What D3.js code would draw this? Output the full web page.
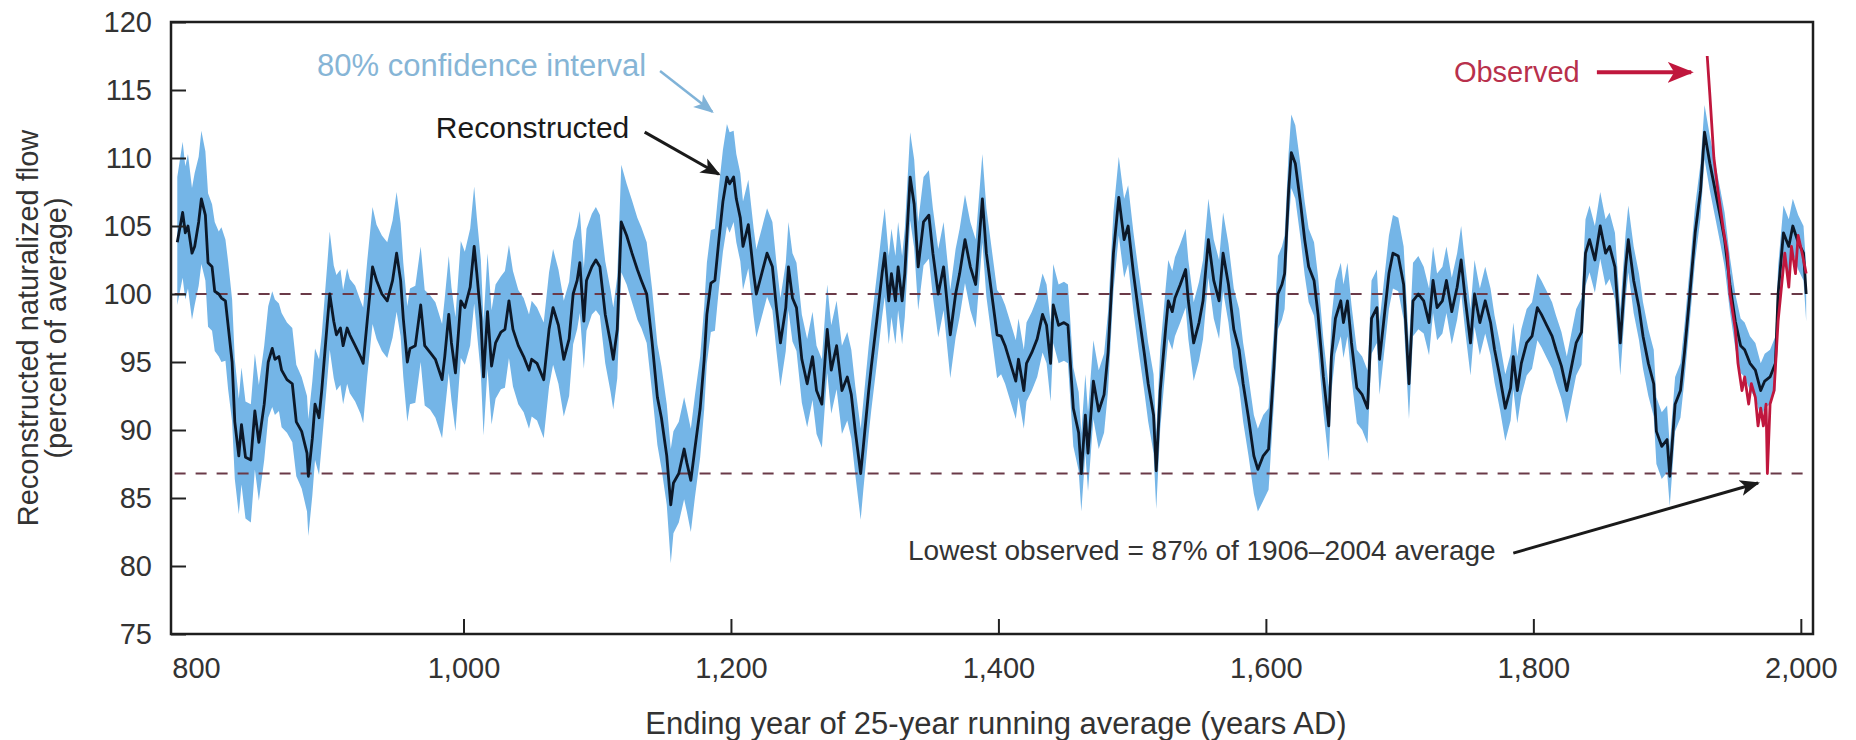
<!DOCTYPE html>
<html>
<head>
<meta charset="utf-8">
<title>Reconstructed naturalized flow</title>
<script src="https://d3js.org/d3.v7.min.js"></script>
<style>
  body { margin: 0; background: white; }
  svg text { font-family: "Liberation Sans", Arial, Helvetica, sans-serif; }
  .axis .domain { stroke: none; }
  .axis line { stroke: #222; stroke-width: 2; }
  .axis text { fill: #333; font-size: 29px; }
</style>
</head>
<body>
<svg id="chart" width="1856" height="740"></svg>
<script>
// reconstructed 25-yr running mean (ending year, % of average)
const years = [
  786,790,792,794,797,799,802,804,807,809, 812,814,817,819,822,824,827,829,832,834,
  837,841,844,847,851,854,857,859,862,864, 868,872,875,879,883,884,887,889,892,894,
  898,900,903,905,908,910,913,915,919,923, 925,928,932,935,939,943,947,950,953,955,
  958,960,964,968,971,975,979,984,986,989, 991,994,998,1001,1005,1008,1010,1013,1015,1018,
  1021,1024,1028,1031,1034,1037,1041,1045,1049,1051, 1055,1060,1064,1067,1071,1075,1079,
  1082,1085,1087,1090,1092,1096,1099,1102,1106,1110, 1112,1115,1118,1122,1126,1130,1133,1137,1141,1145,
  1148,1152,1155,1157,1161,1165,1167,1170,1173,1177, 1180,1182,1185,1188,1191,1194,1197,1199,1202,1204,
  1207,1209,1213,1217,1219,1223,1227,1231,1234,1237, 1241,1243,1246,1249,1253,1257,1261,1264,1268,1272,
  1275,1279,1283,1287,1290,1293,1297,1299,1303,1305, 1309,1313,1315,1318,1320,1323,1325,1328,1330,1334,
  1337,1340,1344,1348,1351,1355,1359,1364,1368,1371, 1375,1379,1383,1388,1391,1395,1399,
  1402,1405,1409,1413,1415,1419,1421,1425,1429,1433, 1436,1439,1441,1445,1449,1452,1456,1460,1462,1465,
  1467,1471,1475,1479,1482,1486,1490,1494,1497,1501, 1505,1509,1512,1516,1518,1521,1525,1527,1530,1532,
  1536,1540,1542,1546,1550,1553,1557,1561,1565,1568, 1572,1576,1580,1583,1587,1591,1594,1598,1602,1606,
  1609,1612,1614,1617,1619,1622,1626,1629,1632,1636, 1639,1643,1647,1649,1652,1656,1658,1661,1664,1668,
  1672,1676,1679,1683,1685,1688,1692,1695,1699,1703, 1707,1710,1714,
  1718,1722,1725,1728,1732,1735,1739,1743,1746,1749, 1753,1756,1760,1764,1768,1771,1775,1779,1783,1785,
  1788,1791,1795,1799,1803,1806,1810,1814,1817,1821, 1825,1829,1832,1836,1839,1842,1846,1850,1854,1857,
  1861,1865,1869,1871,1875,1879,1882,1886,1890,1892, 1896,1900,1902,1906,1910,1913,1917,1921,1925,1928,
  1932,1936,1940,1943,1947,1951,1955,1958,1962,1966, 1970,1973,1977,1981,1983,1987,1991,1994,1998,2002,
  2004
];
const flow = [
  103.8,106,104.5,105,103,103.5,105.3,107,105.8,102.3, 102,100.2,100,99.7,99.5,97.7,95,90.6,88.1,90.4,
  88,87.8,91.4,89.1,91.9,95,96,95.2,95.4,94.4, 93.7,93.4,90.6,89.9,88.3,86.6,89.4,91.9,90.9,92.9,
  97.7,100,98,97,97.5,96.2,97.5,97,96.2,95.4, 94.9,98,102,101,100,99.5,101,103,101,98.2,
  95,96,96.2,99.2,96.2,95.7,95.2,93.7,95.4,98.5, 96.4,94.2,99.5,99,100.5,103.5,101.5,98.2,93.9,98.7,
  94.7,96.4,97.2,97.4,99.5,97.4,96.2,95.4,94.4,95.2, 94.9,93.7,97.4,99,97.7,95.2,96.7,
  100,101,102.3,98,101,102,102.5,102,98.5,96.4, 95.2,97.4,105.3,104.3,103,101.8,101,100,96.5,92.4,
  90.9,88.1,84.5,86.1,86.8,88.6,87.6,86.3,88.6,91.6, 95.2,98.5,100.8,101,104,106.8,108.6,108.1,108.6,107,
  105.6,103.5,105.1,101.5,100,101.5,103,102,99,96.4, 99,102,99.7,99,95.2,93.4,95.4,92.9,91.9,97.4,
  94.4,96.2,92.9,93.9,92.6,89.9,86.8,88.8,92.9,94.7, 98,101.5,103,99.5,101.5,99.5,102,99.5,101.5,108.6,
  106.6,102,105.3,105.8,103,100,102,97,100,101.5, 104,102,100.7,107,103,100,97,
  96.9,96.2,94.9,93.6,95.2,92.9,94.9,95.7,96.7,98.5, 97.7,94.9,99.2,97.7,97.9,97.7,91.6,89.8,86.8,91.1,
  88.3,93.6,91.4,92.6,95.7,103,107.1,104,105,101.5, 98.5,95.7,93.4,91.1,87.0,92.9,97.4,99.5,98.7,99.7,
  100.7,101.8,99.5,96.4,97.9,99.5,104,101,99.5,103, 100.7,97.4,95.9,93.4,90.9,88.1,87.1,88.1,88.6,94.6,
  100,100.7,101.5,107.6,110.4,109.6,106.6,104,102,101, 98.5,93.9,90.3,95.4,98.2,99.5,97.9,99.5,96.4,93.1,
  92.6,91.6,98.2,99,95.2,97.9,101.5,103,102.8,100.7, 93.4,99.5,100,
  99.5,97.9,101,99,99.5,101,98.7,100.5,102.5,99.7, 96.4,100,97.9,99.5,97.9,95.9,93.9,91.6,93.1,95.4,
  92.9,94.9,96.4,96.9,99,98.5,97.7,96.9,95.9,94.7, 92.9,94.9,96.4,97.2,103,104,102.5,105,103,103.5,
  102,96.4,102,104,101,99,96.9,94.9,93.4,89.9, 88.8,89.3,86.6,91.9,92.9,95.7,100,104.5,107.6,111.9,
  109.6,107.6,105.6,104,100.7,98,96.2,95.9,94.9,94.4, 92.9,93.6,93.9,94.9,100,104.5,103.5,105,103.8,103,
  100
];
// 80% confidence interval, lower and upper edge
const flowLow = [
  99.2,101.2,99.6,100.4,98.1,99.2,100.6,102.2,101.0,97.6, 97.3,95.8,95.4,95.0,95.1,93.0,90.6,86.4,83.8,86.0,
  83.5,83.2,87.1,84.8,87.8,90.9,91.7,91.1,91.4,90.2, 89.8,89.1,86.6,85.7,84.0,82.2,85.2,87.8,86.7,88.9,
  93.5,95.9,93.8,92.9,93.3,91.9,93.4,92.7,92.1,91.2, 90.5,93.9,97.8,96.7,95.8,95.3,96.8,98.7,96.9,93.9,
  90.6,91.9,92.0,95.0,91.8,91.5,90.9,89.4,91.3,94.2, 92.2,89.9,95.3,94.8,96.2,99.3,97.2,94.1,89.6,94.5,
  90.4,92.3,93.0,93.1,95.3,93.2,91.9,91.3,90.1,91.0, 90.7,89.4,93.2,94.8,93.4,91.0,92.5,
  96.3,97.4,98.6,94.5,97.3,98.5,98.8,98.4,94.9,92.8, 91.5,93.8,101.6,100.7,99.4,98.1,97.5,96.4,92.8,88.9,
  87.2,84.5,80.2,82.4,83.2,84.9,84.0,82.5,85.0,88.0, 91.5,94.9,97.2,97.3,100.4,103.1,105.0,104.5,105.3,103.8,
  102.4,100.3,101.9,98.3,96.8,98.3,99.8,98.8,95.8,93.2, 95.8,98.8,96.5,95.8,92.0,90.2,92.2,89.7,88.7,94.2,
  91.2,93.0,89.7,90.7,89.4,86.7,83.4,85.6,89.7,91.5, 94.8,98.3,99.8,96.3,98.3,96.3,98.8,96.3,98.3,105.4,
  103.4,98.8,102.1,102.6,99.8,96.8,98.8,93.8,96.8,98.3, 100.8,98.8,97.5,103.8,99.8,96.8,93.8,
  94.1,93.4,92.1,90.8,92.4,90.1,92.1,92.9,93.9,95.7, 94.9,92.1,96.4,94.9,95.1,94.9,88.8,87.0,84.0,88.3,
  85.5,90.8,88.6,89.8,92.9,100.2,104.3,101.2,102.2,98.7, 95.7,92.9,90.6,88.3,84.2,90.1,94.6,96.7,95.9,96.9,
  97.9,99.0,96.7,93.6,95.1,96.7,101.2,98.2,96.7,100.2, 97.9,94.6,93.1,90.6,88.1,85.3,84.0,84.8,85.6,92.0,
  97.4,98.1,98.9,105.0,107.8,107.0,104.0,101.4,99.4,98.4, 95.9,91.3,87.7,92.8,95.6,96.9,95.3,96.9,93.8,90.5,
  90.0,89.0,95.6,96.4,92.6,95.3,98.9,100.4,100.2,98.1, 90.8,96.9,97.4,
  97.1,95.5,98.6,96.6,97.1,98.6,96.3,98.1,100.1,97.3, 94.0,97.6,95.5,97.1,95.5,93.5,91.5,89.2,90.7,93.0,
  90.5,92.5,94.0,94.5,96.6,96.1,95.3,94.5,93.5,92.3, 90.5,92.5,94.0,94.8,100.6,101.6,100.1,102.6,100.6,101.1,
  99.6,94.0,99.6,101.6,98.6,96.6,94.5,92.5,91.0,87.5, 86.4,86.9,84.4,89.9,90.9,93.7,98.0,102.5,105.6,109.9,
  107.6,105.6,103.6,102.0,98.7,96.0,94.2,93.9,92.9,92.4, 90.9,91.6,91.9,92.9,98.0,102.5,101.5,103.0,101.8,101.0,
  98.0
];
const flowHigh = [
  108.6,111.2,109.4,110.3,107.8,108.9,110.1,112.0,110.5,107.4, 106.6,105.3,104.6,104.9,104.0,102.4,99.6,95.2,92.3,94.6,
  92.1,91.9,95.6,93.3,96.2,99.1,100.2,99.6,99.3,98.6, 97.9,97.5,94.8,93.9,92.5,90.8,93.6,96.0,95.2,97.0,
  102.0,104.6,102.1,101.4,101.8,100.3,101.9,101.1,100.6,99.5, 99.0,102.4,106.4,105.1,104.3,103.8,105.4,107.5,105.2,102.3,
  99.1,100.4,100.6,103.5,100.3,99.9,99.4,97.8,99.7,102.8, 100.5,98.3,103.9,103.1,104.8,107.9,105.6,102.5,98.0,103.0,
  98.8,100.7,101.3,101.7,103.6,101.7,100.3,99.7,98.5,99.5, 99.0,97.9,101.6,103.3,101.8,99.5,100.9,
  103.9,105.0,106.1,101.9,104.8,105.9,106.4,105.8,102.4,100.3, 99.0,101.3,109.5,108.1,106.9,105.6,104.9,103.8,100.4,96.3,
  94.7,91.9,88.6,89.9,90.6,92.4,91.5,90.1,92.5,95.4, 99.1,102.3,104.7,104.8,107.9,110.6,112.5,111.9,112.0,110.3,
  108.9,106.8,108.4,104.8,103.3,104.8,106.3,105.3,102.3,99.7, 102.3,105.3,103.0,102.3,98.5,96.7,98.7,96.2,95.2,100.7,
  97.7,99.5,96.2,97.2,95.9,93.2,90.1,92.1,96.2,98.0, 101.3,104.8,106.3,102.8,104.8,102.8,105.3,102.8,104.8,111.9,
  109.9,105.3,108.6,109.1,106.3,103.3,105.3,100.3,103.3,104.8, 107.3,105.3,104.0,110.3,106.3,103.3,100.3,
  99.9,99.2,97.9,96.6,98.2,95.9,97.9,98.7,99.7,101.5, 100.7,97.9,102.2,100.7,100.9,100.7,94.6,92.8,89.8,94.1,
  91.3,96.6,94.4,95.6,98.7,106.0,110.1,107.0,108.0,104.5, 101.5,98.7,96.4,94.1,89.8,95.9,100.4,102.5,101.7,102.7,
  103.7,104.8,102.5,99.4,100.9,102.5,107.0,104.0,102.5,106.0, 103.7,100.4,98.9,96.4,93.9,91.1,90.1,91.1,91.6,97.4,
  102.8,103.5,104.3,110.4,113.2,112.4,109.4,106.8,104.8,103.8, 101.3,96.7,93.1,98.2,101.0,102.3,100.7,102.3,99.2,95.9,
  95.4,94.4,101.0,101.8,98.0,100.7,104.3,105.8,105.6,103.5, 96.2,102.3,102.8,
  102.0,100.4,103.5,101.5,102.0,103.5,101.2,103.0,105.0,102.2, 98.9,102.5,100.4,102.0,100.4,98.4,96.4,94.1,95.6,97.9,
  95.4,97.4,98.9,99.4,101.5,101.0,100.2,99.4,98.4,97.2, 95.4,97.4,98.9,99.7,105.5,106.5,105.0,107.5,105.5,106.0,
  104.5,98.9,104.5,106.5,103.5,101.5,99.4,97.4,95.9,92.4, 91.3,91.8,88.8,93.9,94.9,97.7,102.0,106.5,109.6,113.9,
  111.6,109.6,107.6,106.0,102.7,100.0,98.2,97.9,96.9,96.4, 94.9,95.6,95.9,96.9,102.0,106.5,105.5,107.0,105.8,105.0,
  102.0
];
// observed (gauged) flow, 25-yr running mean
const obsYears = [1930,1932,1935,1938,1942,1945,1947,1951,1953,1956,1958,1961,1963,1966,1968,
                  1970,1972,1974,1975,1977,1980,1983,1986,1988,1991,1993,1996,1998,2001,2004];
const obsFlow = [117.5,114.6,110,107.6,104.8,103,100,97.4,94.9,92.9,93.9,91.9,93.4,92.4,90.3,
                 91.6,90.3,91.9,86.8,91.9,92.9,98,101,103,100.5,103.5,101.5,104.3,103,101.5];

const xTicks = [800, 1000, 1200, 1400, 1600, 1800, 2000];
const yTicks = [75, 80, 85, 90, 95, 100, 105, 110, 115, 120];
const refLines = [100, 86.8];  // long-term mean, lowest observed

const svg = d3.select("#chart");
const plotL = 171, plotR = 1813, plotT = 22, plotB = 634;

const x = d3.scaleLinear().domain([781.3, 2009.1]).range([plotL, plotR]);
const y = d3.scaleLinear().domain([75, 120]).range([plotB, plotT]);

const recon = years.map((yr, i) => ({ year: yr, v: flow[i], lo: flowLow[i], hi: flowHigh[i] }));
const obs = obsYears.map((yr, i) => ({ year: yr, v: obsFlow[i] }));

// arrowheads
const defs = svg.append("defs");
function marker(id, color, size) {
  defs.append("marker")
      .attr("id", id)
      .attr("viewBox", "0 0 10 10")
      .attr("refX", 9).attr("refY", 5)
      .attr("markerUnits", "userSpaceOnUse")
      .attr("markerWidth", size).attr("markerHeight", size)
      .attr("orient", "auto")
    .append("path")
      .attr("d", "M0,1 L10,5 L0,9 L2.5,5 Z")
      .attr("fill", color);
}
marker("head-black", "#1a1a1a", 20);
marker("head-blue", "#80b3d8", 20);
marker("head-red", "#c0173d", 26);

// confidence band
svg.append("path")
   .datum(recon)
   .attr("fill", "#74b5e7")
   .attr("d", d3.area().x(d => x(d.year)).y0(d => y(d.lo)).y1(d => y(d.hi)));

// dashed reference lines
svg.selectAll("line.ref").data(refLines)
   .join("line")
   .attr("class", "ref")
   .attr("x1", x(784)).attr("x2", x(2006))
   .attr("y1", d => y(d)).attr("y2", d => y(d))
   .attr("stroke", "#6a3a48")
   .attr("stroke-width", 2)
   .attr("stroke-dasharray", "11,10");

// reconstructed line
svg.append("path")
   .datum(recon)
   .attr("fill", "none")
   .attr("stroke", "#0c1828")
   .attr("stroke-width", 2.8)
   .attr("stroke-linejoin", "round")
   .attr("d", d3.line().x(d => x(d.year)).y(d => y(d.v)));

// observed line
svg.append("path")
   .datum(obs)
   .attr("fill", "none")
   .attr("stroke", "#c0173d")
   .attr("stroke-width", 2.8)
   .attr("stroke-linejoin", "round")
   .attr("d", d3.line().x(d => x(d.year)).y(d => y(d.v)));

// axes (ticks point inward)
const xAxis = svg.append("g")
   .attr("class", "axis")
   .attr("transform", `translate(0,${plotB})`)
   .call(d3.axisBottom(x).tickValues(xTicks).tickFormat(d3.format(",")).tickSize(-15).tickPadding(23));
xAxis.selectAll(".tick text").attr("dy", "0.71em");
xAxis.selectAll(".tick").filter(d => d === 800).select("line").remove();

svg.append("g")
   .attr("class", "axis")
   .attr("transform", `translate(${plotL},0)`)
   .call(d3.axisLeft(y).tickValues(yTicks).tickSize(-15).tickPadding(19));

// frame
svg.append("rect")
   .attr("x", plotL).attr("y", plotT)
   .attr("width", plotR - plotL).attr("height", plotB - plotT)
   .attr("fill", "none")
   .attr("stroke", "#1e1e1e")
   .attr("stroke-width", 2.5);

// axis titles
svg.append("text")
   .attr("x", (plotL + plotR) / 2 + 4).attr("y", 734)
   .attr("text-anchor", "middle")
   .attr("font-size", 31).attr("fill", "#333")
   .text("Ending year of 25-year running average (years AD)");

const yTitle = svg.append("text")
   .attr("transform", `translate(0,${(plotT + plotB) / 2}) rotate(-90)`)
   .attr("text-anchor", "middle")
   .attr("font-size", 29).attr("fill", "#333");
yTitle.append("tspan").attr("x", 0).attr("y", 38).text("Reconstructed naturalized flow");
yTitle.append("tspan").attr("x", 0).attr("y", 66).text("(percent of average)");

// annotations, placed in data units
function note(txt, yr, val, color, anchor, size) {
  svg.append("text")
     .attr("x", x(yr)).attr("y", y(val))
     .attr("text-anchor", anchor)
     .attr("font-size", size).attr("fill", color)
     .text(txt);
}
function arrow(y0, v0, y1, v1, color, head, width) {
  svg.append("line")
     .attr("x1", x(y0)).attr("y1", y(v0))
     .attr("x2", x(y1)).attr("y2", y(v1))
     .attr("stroke", color).attr("stroke-width", width)
     .attr("marker-end", `url(#${head})`);
}

note("80% confidence interval", 890.5, 116.05, "#86b5d6", "start", 31);
arrow(1147, 116.4, 1186, 113.4, "#80b3d8", "head-blue", 2.5);

note("Reconstructed", 1124, 111.5, "#1a1a1a", "end", 30);
arrow(1135.5, 111.9, 1191, 108.8, "#1a1a1a", "head-black", 3);

note("Observed", 1740.6, 115.6, "#b8304c", "start", 29);
arrow(1847.5, 116.3, 1918, 116.3, "#c0173d", "head-red", 4);

note("Lowest observed = 87% of 1906\u20132004 average", 1332.4, 80.45, "#333", "start", 28);
arrow(1785, 80.95, 1968, 86.1, "#1a1a1a", "head-black", 3);
</script>
</body>
</html>
